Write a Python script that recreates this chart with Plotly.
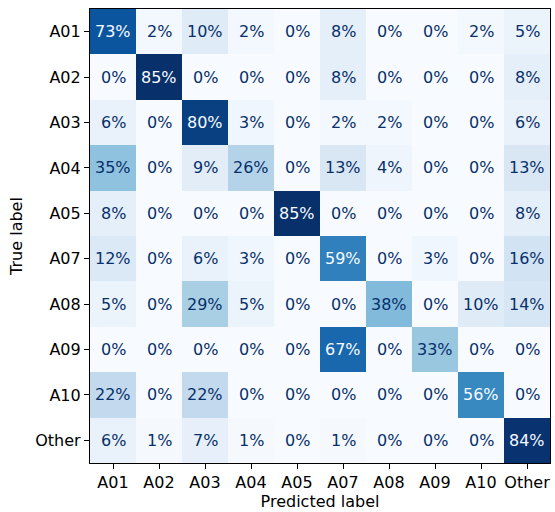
import plotly.graph_objects as go

labels = ["A01", "A02", "A03", "A04", "A05", "A07", "A08", "A09", "A10", "Other"]
values = [
    [73, 2, 10, 2, 0, 8, 0, 0, 2, 5],
    [0, 85, 0, 0, 0, 8, 0, 0, 0, 8],
    [6, 0, 80, 3, 0, 2, 2, 0, 0, 6],
    [35, 0, 9, 26, 0, 13, 4, 0, 0, 13],
    [8, 0, 0, 0, 85, 0, 0, 0, 0, 8],
    [12, 0, 6, 3, 0, 59, 0, 3, 0, 16],
    [5, 0, 29, 5, 0, 0, 38, 0, 10, 14],
    [0, 0, 0, 0, 0, 67, 0, 33, 0, 0],
    [22, 0, 22, 0, 0, 0, 0, 0, 56, 0],
    [6, 1, 7, 1, 0, 1, 0, 0, 0, 84],
]

blues = ['rgb(247,251,255)', 'rgb(222,235,247)', 'rgb(198,219,239)', 'rgb(158,202,225)',
         'rgb(107,174,214)', 'rgb(66,146,198)', 'rgb(33,113,181)', 'rgb(8,81,156)', 'rgb(8,48,107)']
cscale = [[i / (len(blues) - 1), c] for i, c in enumerate(blues)]

vmax = max(max(r) for r in values)
vmin = 0
thresh = (vmax + vmin) / 2

fig = go.Figure(go.Heatmap(
    z=values, x=labels, y=labels, colorscale=cscale, zmin=vmin, zmax=vmax,
    showscale=False, hoverinfo="skip",
))

font = "DejaVu Sans"
fs = 16
annotations = []
for i, row_lab in enumerate(labels):
    for j, col_lab in enumerate(labels):
        v = values[i][j]
        annotations.append(dict(
            x=col_lab, y=row_lab, text=f"{v}%", showarrow=False,
            font=dict(family=font, size=fs, color="#f7fbff" if v >= thresh else "#08306b"),
        ))

fig.update_layout(
    width=555, height=512,
    margin=dict(l=90, r=5, t=9, b=49),
    paper_bgcolor="white", plot_bgcolor="white",
    font=dict(family=font, size=fs, color="black"),
    annotations=annotations,
    xaxis=dict(
        title=dict(text="Predicted label", standoff=3, font=dict(size=fs)),
        ticks="outside", ticklen=5, tickcolor="black", showline=True, mirror=True,
        linecolor="black", linewidth=1.2, showgrid=False, zeroline=False,
        tickfont=dict(size=fs),
    ),
    yaxis=dict(
        title=dict(text="True label", standoff=8, font=dict(size=fs)),
        ticks="outside", ticklen=5, tickcolor="black", showline=True, mirror=True,
        linecolor="black", linewidth=1.2, showgrid=False, zeroline=False,
        autorange="reversed", tickfont=dict(size=fs),
    ),
)

fig.write_html("out.html", config={"displayModeBar": False},
               post_script="document.body.style.margin='0';document.body.style.overflow='hidden';")
